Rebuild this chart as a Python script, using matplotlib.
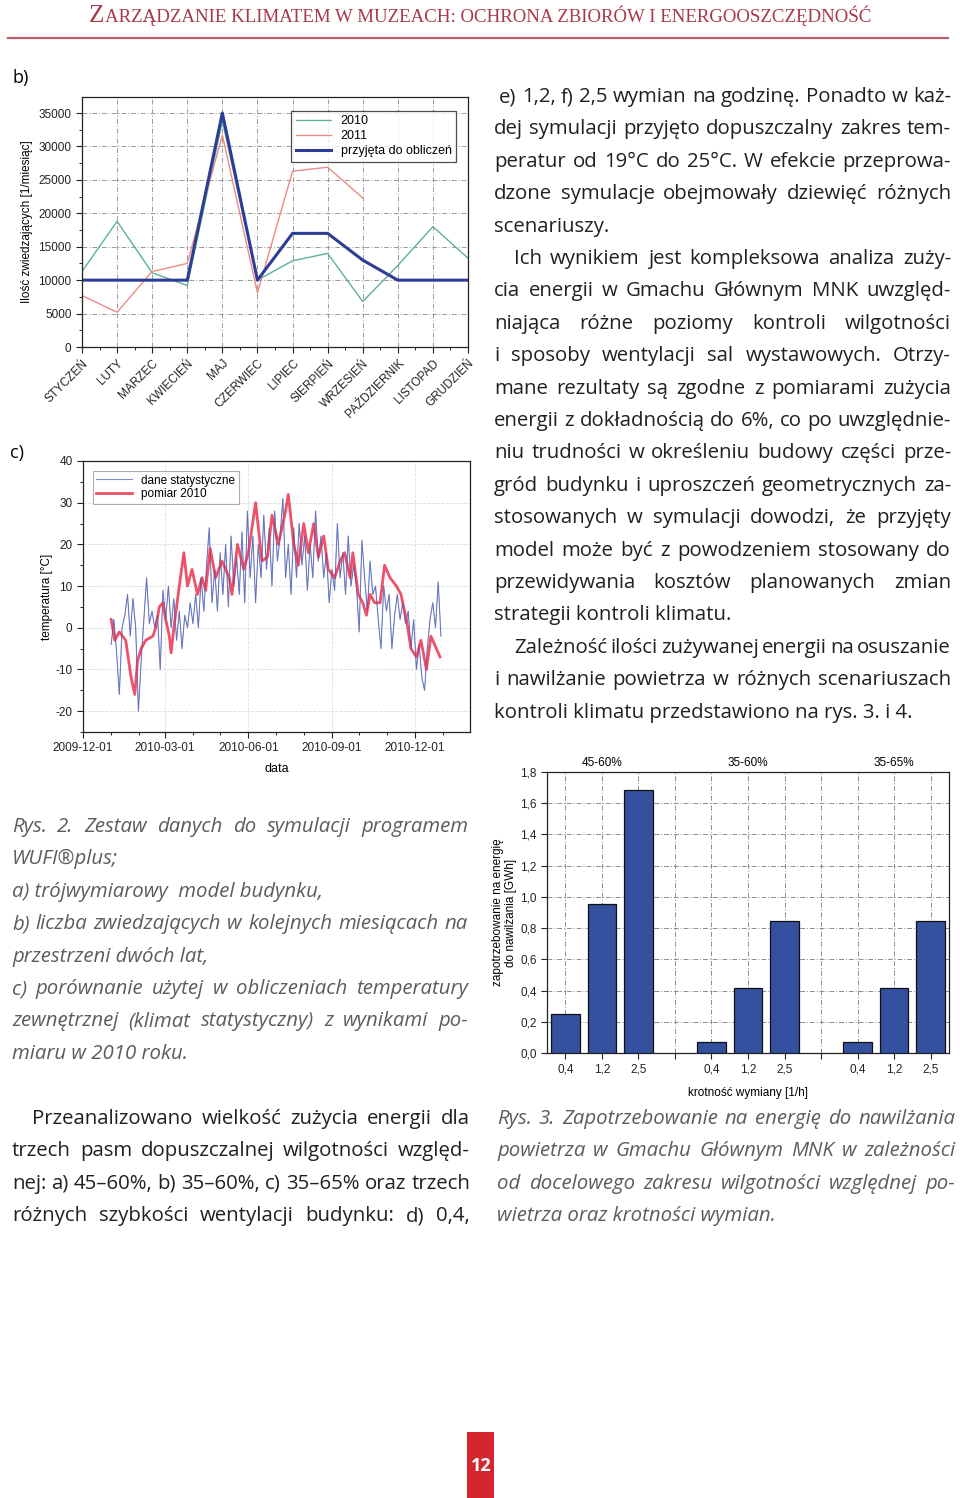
import numpy as np
import matplotlib
matplotlib.use('Agg')
import matplotlib.pyplot as plt
import matplotlib.dates as mdates
from matplotlib.ticker import MultipleLocator, FuncFormatter
from matplotlib.lines import Line2D
from matplotlib.patches import Rectangle

plt.rcParams['axes.unicode_minus'] = False

# ---- dane: rys. 2b (liczba zwiedzajacych) ----
months = ['STYCZEŃ', 'LUTY', 'MARZEC', 'KWIECIEŃ', 'MAJ', 'CZERWIEC', 'LIPIEC',
          'SIERPIEŃ', 'WRZESIEŃ', 'PAŹDZIERNIK', 'LISTOPAD', 'GRUDZIEŃ']
v2010 = [11300, 18800, 11100, 9200, 33800, 10000, 12900, 14000, 6800, 12200, 18000, 13300]
v2011 = [7700, 5200, 11300, 12500, 31700, 8100, 26300, 26900, 22300]
v_calc = [10000, 10000, 10000, 10000, 35000, 10000, 17000, 17000, 13000, 10000, 10000, 10000]

# ---- dane: rys. 2c (temperatura), dzien roku 2010 ----
stat_days = list(range(0, 364, 3))
stat_temp = [-4, 2, -6, -16, 0, 3, 8, -2, 7, 0,
             -20, -8, 2, 12, 1, 4, 0, 3, -10, 9,
             2, 10, 0, 7, -3, 4, -5, 3, 0, 6,
             1, 8, 0, 12, 4, 15, 24, 6, 14, 4,
             18, 8, 20, 5, 22, 10, 17, 8, 23, 6,
             28, 12, 22, 6, 20, 12, 27, 14, 24, 10,
             28, 16, 22, 31, 12, 20, 8, 24, 12, 25,
             15, 22, 9, 20, 12, 28, 16, 22, 12, 18,
             6, 14, 9, 25, 12, 18, 8, 22, 10, 15,
             10, -1, 21, 12, 4, 16, 8, 10, 2, -5,
             10, 4, 8, -5, 3, 8, 2, 6, 1, 4,
             -5, 2, -10, -4, -12, -15, -5, 2, 6, 0,
             11, -2]
meas_days = [0, 4, 9, 16, 22, 26, 29, 33, 38, 46, 49, 53, 57, 60, 64, 66, 69, 75, 80, 84,
             89, 95, 100, 104, 109, 115, 122, 130, 133, 139, 146, 151, 159, 166, 172, 177,
             184, 192, 195, 201, 206, 212, 217, 223, 228, 234, 239, 246, 252, 257, 263, 266,
             272, 277, 281, 285, 290, 296, 301, 307, 314, 319, 325, 330, 336, 341, 347, 352,
             358, 362]
meas_temp = [2, -3, -1, -3, -12, -16, -8, -5, -3, -2, 0, 5, 6, 2, -2, -6, 0, 10, 18, 10,
             14, 8, 12, 9, 19, 12, 16, 12, 8, 20, 14, 18, 30, 16, 17, 27,
             20, 28, 32, 20, 15, 25, 18, 25, 17, 22, 14, 12, 16, 18, 12, 18,
             8, 6, 3, 8, 6, 6, 15, 12, 10, 8, 2, -5, -7, -3, -10, -2,
             -5, -7]

# ---- dane: rys. 3 (nawilzanie) ----
ranges = ['45-60%', '35-60%', '35-65%']
rates = ['0,4', '1,2', '2,5']
energy = [[0.248, 0.955, 1.685], [0.071, 0.417, 0.845], [0.071, 0.415, 0.845]]

W, H = 960, 1498
fig = plt.figure(figsize=(9.6, 14.98), dpi=100)
renderer = fig.canvas.get_renderer()
BODY = 'Open Sans'
CHART = 'Liberation Sans'
FS = 14.7


def px_axes(x0, y0, x1, y1):
    return fig.add_axes([x0 / W, 1 - y1 / H, (x1 - x0) / W, (y1 - y0) / H])


def put_line(text, x0, x1, y, size=FS, style='normal', color='#231f20', justify=True):
    """linia tekstu, wyjustowana do x0..x1 (piksele)"""
    words = text.split()
    if not justify or len(words) == 1:
        fig.text(x0 / W, 1 - y / H, text, fontsize=size, style=style, color=color,
                 family=BODY, va='baseline', ha='left')
        return
    arts = [fig.text(0, 1 - y / H, w, fontsize=size, style=style, color=color,
                     family=BODY, va='baseline', ha='left') for w in words]
    widths = [a.get_window_extent(renderer).width for a in arts]
    gap = (x1 - x0 - sum(widths)) / (len(words) - 1)
    x = x0
    for a, w in zip(arts, widths):
        a.set_x(x / W)
        x += w + gap


def style_axes(ax):
    for s in ax.spines.values():
        s.set_linewidth(0.9)
        s.set_color('#222222')
    ax.tick_params(which='major', length=4, width=0.8, labelsize=8.5, colors='#222222')
    ax.tick_params(which='minor', length=2, width=0.6)
    for lab in ax.get_xticklabels() + ax.get_yticklabels():
        lab.set_family(CHART)


# ---- naglowek ----
HDR = '#a8384c'
t1 = fig.text(0, 1 - 22 / H, 'Z', fontsize=16, family='Liberation Serif', color=HDR, va='baseline')
t2 = fig.text(0, 1 - 22 / H, 'ARZĄDZANIE KLIMATEM W MUZEACH: OCHRONA ZBIORÓW I ENERGOOSZCZĘDNOŚĆ',
              fontsize=12, family='Liberation Serif', color=HDR, va='baseline')
w1 = t1.get_window_extent(renderer).width
w2 = t2.get_window_extent(renderer).width
k = 780 / (w1 + w2)
t1.set_fontsize(16 * k)
t2.set_fontsize(12 * k)
w1 = t1.get_window_extent(renderer).width
w2 = t2.get_window_extent(renderer).width
xs = 480 - (w1 + w2) / 2
t1.set_x(xs / W)
t2.set_x((xs + w1) / W)
fig.add_artist(Line2D([8 / W, 948 / W], [1 - 38 / H] * 2, color='#b8606c', lw=1.6))

fig.text(12 / W, 1 - 78 / H, 'b)', fontsize=13, family=BODY, va='center')
fig.text(10 / W, 1 - 453 / H, 'c)', fontsize=13, family=BODY, va='center')

# ---- rys. 2b ----
axb = px_axes(82, 97, 468, 347)
xm = np.arange(len(months))
axb.plot(xm, v2010, color='#5fb09a', lw=1.0, label='2010')
axb.plot(np.arange(len(v2011)), v2011, color='#ee8a84', lw=1.0, label='2011')
axb.plot(xm, v_calc, color='#2b3d94', lw=2.2, label='przyjęta do obliczeń')
axb.set_xlim(0, 11)
axb.set_ylim(0, 37400)
axb.set_xticks(xm)
axb.set_xticklabels(months, rotation=45, ha='right', rotation_mode='anchor')
axb.xaxis.set_minor_locator(MultipleLocator(0.5))
axb.yaxis.set_major_locator(MultipleLocator(5000))
axb.yaxis.set_minor_locator(MultipleLocator(2500))
axb.grid(True, color='#9a9a9a', ls=(0, (5, 2, 1, 2)), lw=0.7)
axb.set_axisbelow(True)
style_axes(axb)
axb.set_ylabel('Ilość zwiedzających [1/miesiąc]', fontsize=8.5, family=CHART, labelpad=4)
leg = axb.legend(loc='upper right', bbox_to_anchor=(0.985, 0.97), fontsize=9, frameon=True,
                 fancybox=False, handlelength=2.8, labelspacing=0.25, borderpad=0.35,
                 prop={'family': CHART, 'size': 9})
leg.get_frame().set_edgecolor('#222222')
leg.get_frame().set_linewidth(0.9)

# ---- rys. 2c ----
axc = px_axes(83, 461, 470, 732)
base = np.datetime64('2010-01-01')
sd = base + np.array(stat_days).astype('timedelta64[D]')
md = base + np.array(meas_days).astype('timedelta64[D]')
axc.plot(sd, stat_temp, color='#7f8ad0', lw=0.8, label='dane statystyczne')
axc.plot(md, meas_temp, color='#ec3350', lw=2.0, alpha=0.85, label='pomiar 2010')
axc.plot(sd, stat_temp, color='#4a5aa8', lw=0.4, alpha=0.6)
axc.set_xlim(np.datetime64('2009-12-01'), np.datetime64('2011-01-31'))
axc.set_ylim(-25, 40)
major = np.array(['2009-12-01', '2010-03-01', '2010-06-01', '2010-09-01', '2010-12-01'],
                 dtype='datetime64[D]')
axc.set_xticks(mdates.date2num(major))
axc.xaxis.set_major_formatter(mdates.DateFormatter('%Y-%m-%d'))
axc.xaxis.set_minor_locator(mdates.MonthLocator())
axc.yaxis.set_major_locator(MultipleLocator(10))
axc.yaxis.set_minor_locator(MultipleLocator(5))
axc.grid(True, color='#dcdcdc', ls='--', lw=0.6)
axc.set_axisbelow(True)
style_axes(axc)
axc.set_ylabel('temperatura [°C]', fontsize=8.5, family=CHART, labelpad=2)
axc.set_xlabel('data', fontsize=9, family=CHART, labelpad=6)
legc = axc.legend(loc='upper left', bbox_to_anchor=(0.01, 0.985), fancybox=False,
                  handlelength=3.0, labelspacing=0.15, borderpad=0.3,
                  prop={'family': CHART, 'size': 8.5})
legc.get_frame().set_edgecolor('#999999')
legc.get_frame().set_linewidth(0.8)

# ---- rys. 3 ----
axr = px_axes(547, 772, 949, 1053)
pos = []
vals = []
for g, grp in enumerate(energy):
    for i, v in enumerate(grp):
        pos.append(1 + 4 * g + i)
        vals.append(v)
axr.bar(pos, vals, width=0.78, color='#34519f', edgecolor='#111111', lw=0.9, zorder=3)
axr.set_xlim(0.5, 11.5)
axr.set_ylim(0, 1.8)
ticks = list(range(1, 12))
axr.set_xticks(ticks)
axr.set_xticklabels([rates[(t - 1) % 4] if (t - 1) % 4 < 3 else '' for t in ticks])
axr.yaxis.set_major_locator(MultipleLocator(0.2))
axr.yaxis.set_major_formatter(FuncFormatter(lambda v, _: f'{v:.1f}'.replace('.', ',')))
axr.grid(True, color='#8c8c8c', ls=(0, (5, 2, 1, 2)), lw=0.7)
axr.set_axisbelow(True)
style_axes(axr)
for g, name in enumerate(ranges):
    axr.text(2 + 4 * g, 1.012, name, transform=axr.get_xaxis_transform(), ha='center',
             va='bottom', fontsize=8.5, family=CHART)
axr.set_ylabel('zapotrzebowanie na energię\ndo nawilżania [GWh]', fontsize=8.5,
               family=CHART, labelpad=2, linespacing=1.2)
axr.set_xlabel('krotność wymiany [1/h]', fontsize=8.5, family=CHART, labelpad=8)

# ---- tekst: prawa kolumna ----
right = [
    ('e) 1,2, f) 2,5 wymian na godzinę. Ponadto w każ-', 499, True),
    ('dej symulacji przyjęto dopuszczalny zakres tem-', 494, True),
    ('peratur od 19°C do 25°C. W efekcie przeprowa-', 494, True),
    ('dzone symulacje obejmowały dziewięć różnych', 494, True),
    ('scenariuszy.', 494, False),
    ('Ich wynikiem jest kompleksowa analiza zuży-', 514, True),
    ('cia energii w Gmachu Głównym MNK uwzględ-', 494, True),
    ('niająca różne poziomy kontroli wilgotności', 494, True),
    ('i sposoby wentylacji sal wystawowych. Otrzy-', 494, True),
    ('mane rezultaty są zgodne z pomiarami zużycia', 494, True),
    ('energii z dokładnością do 6%, co po uwzględnie-', 494, True),
    ('niu trudności w określeniu budowy części prze-', 494, True),
    ('gród budynku i uproszczeń geometrycznych za-', 494, True),
    ('stosowanych  w symulacji dowodzi, że przyjęty', 494, True),
    ('model może być z powodzeniem stosowany do', 494, True),
    ('przewidywania kosztów planowanych zmian', 494, True),
    ('strategii kontroli klimatu.', 494, False),
    ('Zależność ilości zużywanej energii na osuszanie', 514, True),
    ('i nawilżanie powietrza w różnych scenariuszach', 494, True),
    ('kontroli klimatu przedstawiono na rys. 3. i 4.', 494, False),
]
for i, (txt, x0, j) in enumerate(right):
    put_line(txt, x0, 951, 102 + i * 32.4, justify=j)

# ---- podpis rys. 2 ----
CAP = '#5c5c5c'
cap2 = [
    ('Rys. 2. Zestaw danych do symulacji programem', True),
    ('WUFI®plus;', False),
    ('a) trójwymiarowy  model budynku,', False),
    ('b) liczba zwiedzających w kolejnych miesiącach na', True),
    ('przestrzeni dwóch lat,', False),
    ('c) porównanie użytej w obliczeniach temperatury', True),
    ('zewnętrznej (klimat statystyczny) z wynikami po-', True),
    ('miaru w 2010 roku.', False),
]
for i, (txt, j) in enumerate(cap2):
    put_line(txt, 12, 468, 832 + i * 32.4, style='italic', color=CAP, justify=j)

# ---- akapit lewy ----
para = [
    ('Przeanalizowano wielkość zużycia energii dla', 32),
    ('trzech pasm dopuszczalnej wilgotności względ-', 12),
    ('nej: a) 45–60%, b) 35–60%, c) 35–65% oraz trzech', 12),
    ('różnych szybkości wentylacji budynku: d) 0,4,', 12),
]
for i, (txt, x0) in enumerate(para):
    put_line(txt, x0, 470, 1124 + i * 32.4)

# ---- podpis rys. 3 ----
cap3 = [
    ('Rys. 3. Zapotrzebowanie na energię do nawilżania', True),
    ('powietrza w Gmachu Głównym MNK w zależności', True),
    ('od docelowego zakresu wilgotności względnej po-', True),
    ('wietrza oraz krotności wymian.', False),
]
for i, (txt, j) in enumerate(cap3):
    put_line(txt, 497, 955, 1124 + i * 32.4, style='italic', color=CAP, justify=j)

# ---- numer strony ----
fig.add_artist(Rectangle((467 / W, 0), 27 / W, 66 / H, transform=fig.transFigure,
                         color='#d4262f', lw=0))
fig.text(481 / W, 1 - 1466 / H, '12', fontsize=13, weight='bold', color='white',
         family=BODY, ha='center', va='center')

fig.savefig('out.png', dpi=100, facecolor='white')
